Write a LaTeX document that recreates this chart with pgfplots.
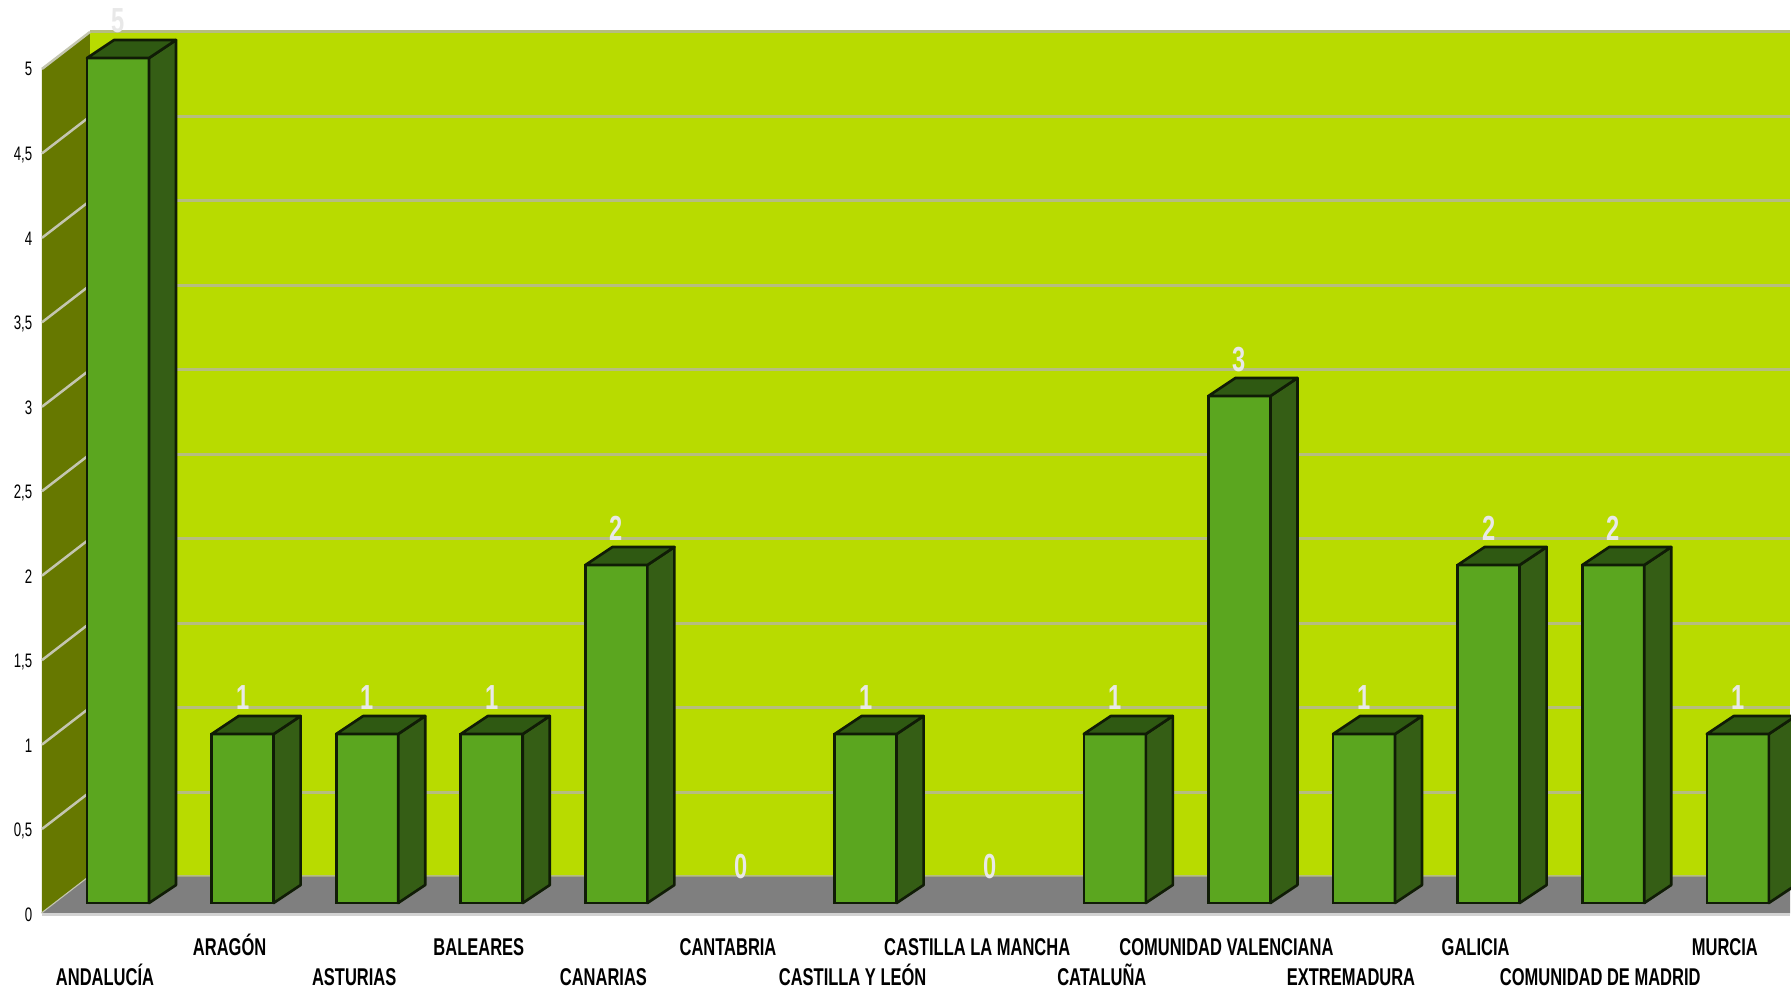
\documentclass[border=0pt]{standalone}
\usepackage{pgfplots}
\pgfplotsset{compat=1.18}
\usepackage{pgfplotstable}
\usepackage{fontspec}
\newfontfamily\narrow[FakeStretch=0.68]{Liberation Sans}
\definecolor{limewall}{HTML}{B8DB00}
\definecolor{olivewall}{HTML}{667800}
\definecolor{floorgray}{HTML}{7F7F7F}
\definecolor{gridback}{HTML}{B6BD80}
\definecolor{gridwall}{HTML}{C4C6B0}
\definecolor{frontgreen}{HTML}{5BA61F}
\definecolor{sidegreen}{HTML}{355E15}
\definecolor{topgreen}{HTML}{2F5912}
\definecolor{edgec}{HTML}{101C06}
\definecolor{labelc}{HTML}{E8E8E8}
\pgfdeclareplotmark{nothing}{}

\pgfplotstableread{
i v
0 5
1 1
2 1
3 1
4 2
5 0
6 1
7 0
8 1
9 3
10 1
11 2
12 2
13 1
}\datatable

\begin{document}
\begin{tikzpicture}
\useasboundingbox (0,0) rectangle (17.91,9.92);
\clip (0,0) rectangle (17.91,9.92);
% 3D walls and floor (pixel coordinates, y downwards)
\begin{scope}[x=0.01cm,y=-0.01cm,yshift=9.92cm]
  \fill[limewall] (90,32) rectangle (1791,877);
  \foreach \k in {0,...,10}
    \draw[gridback, line width=0.3mm] (90,{877-84.5*\k}) -- (1791,{877-84.5*\k});
  \fill[olivewall] (42,914) -- (42,69) -- (90,32) -- (90,877) -- cycle;
  \foreach \k in {0,...,10}
    \draw[gridwall, line width=0.25mm] (42,{914-84.5*\k}) -- (90,{877-84.5*\k});
  \fill[floorgray] (42,914) -- (90,877) -- (1791,877) -- (1791,914) -- cycle;
  \draw[gray!35, line width=0.25mm] (42,915) -- (1791,915);
\end{scope}
\begin{axis}[
  at={(0.557cm,0.89cm)}, anchor=south west,
  scale only axis,
  x=1.246cm, y=1.69cm,
  xmin=-0.5, xmax=13.5, ymin=0, ymax=5,
  clip=false,
  axis line style={draw=none},
  tick style={draw=none},
  ytick={0,0.5,...,5},
  yticklabel style={font=\narrow\fontsize{5.55pt}{6pt}\selectfont,
    anchor=base east, inner sep=0pt, xshift=-0.227cm, yshift=-0.18cm,
    /pgf/number format/.cd, use comma, assume math mode=true},
  xtick={0,2,...,12},
  xticklabels={ANDALUCÍA, ASTURIAS, CANARIAS, CASTILLA Y LEÓN, CATALUÑA, EXTREMADURA, COMUNIDAD DE MADRID},
  extra x ticks={1,3,...,13},
  extra x tick labels={ARAGÓN, BALEARES, CANTABRIA, CASTILLA LA MANCHA, COMUNIDAD VALENCIANA, GALICIA, MURCIA},
  xticklabel style={font=\narrow\bfseries\fontsize{6.9pt}{7pt}\selectfont,
    anchor=base, inner sep=0pt, xshift=-0.13cm, yshift=-0.82cm},
  extra x tick style={xticklabel style={yshift=0.30cm}},
]
% side and top faces of each bar
\addplot[scatter, only marks, mark=nothing, restrict y to domain=0.5:10,
  visualization depends on={rawy \as \rawy},
  scatter/@pre marker code/.code={%
    \pgfmathsetmacro\barH{\rawy*1.69}%
    \filldraw[fill=sidegreen, draw=edgec, line width=0.75pt, line join=round]
      (0.31cm,0pt) -- ++(0.27cm,0.18cm) -- ++(0pt,-\barH cm) -- ++(-0.27cm,-0.18cm) -- cycle;
    \filldraw[fill=topgreen, draw=edgec, line width=0.75pt, line join=round]
      (-0.31cm,0pt) -- (0.31cm,0pt) -- ++(0.27cm,0.18cm) -- ++(-0.62cm,0pt) -- cycle;
  },
  scatter/@post marker code/.code={},
] table[x=i,y=v] {\datatable};
% front faces
\addplot[ybar, bar width=0.62cm, bar shift=0pt, fill=frontgreen, draw=edgec,
  line width=0.75pt, restrict y to domain=0.5:10] table[x=i,y=v] {\datatable};
% value labels
\addplot[draw=none, mark=none,
  nodes near coords={\pgfmathprintnumber[assume math mode=true]{\pgfplotspointmeta}},
  every node near coord/.append style={anchor=base, yshift=0.25cm, inner sep=0pt,
    text=labelc, font=\narrow\bfseries\fontsize{9.9pt}{10pt}\selectfont},
] table[x=i,y=v] {\datatable};
\end{axis}
\end{tikzpicture}
\end{document}
